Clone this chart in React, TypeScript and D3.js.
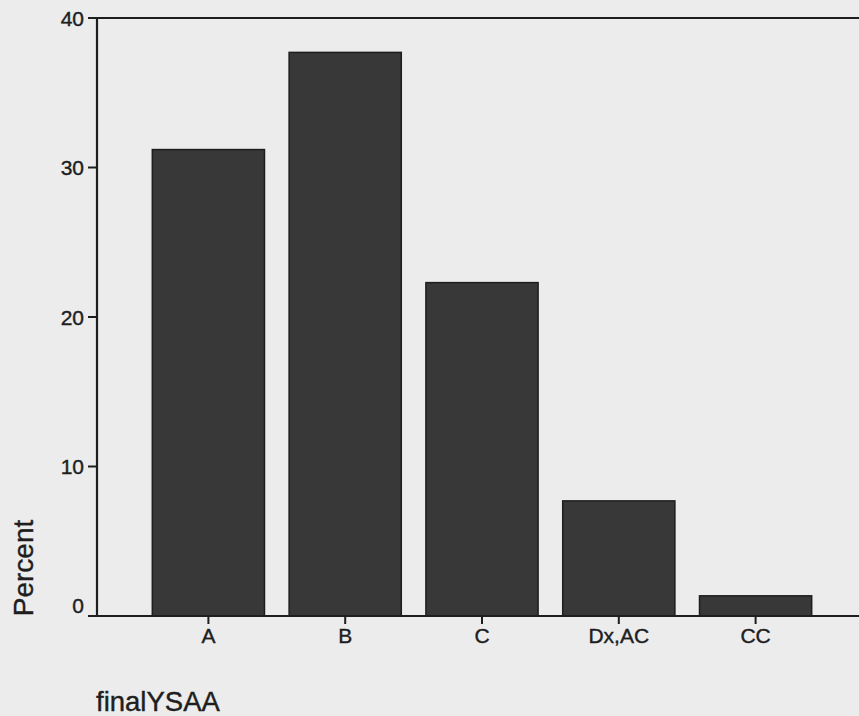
import React from "react";
import * as d3 from "d3";

const categories = ["A", "B", "C", "Dx,AC", "CC"];
const percents = [31.2, 37.7, 22.3, 7.7, 1.35];
const yTicks = [0, 10, 20, 30, 40];
const yLabel = "Percent";
const xLabel = "finalYSAA";

const W = 859;
const H = 716;

export default function App() {
  const y = d3.scaleLinear().domain([0, 40]).range([616, 18]);
  const x = d3
    .scaleBand<string>()
    .domain(categories)
    .range([140, 824])
    .paddingInner(0.18)
    .paddingOuter(0.09);
  const axisX = 97;
  const font = "'Liberation Sans', Arial, sans-serif";
  const ink = "#1e1e1e";
  const textStyle = { stroke: ink, strokeWidth: 0.4 } as React.CSSProperties;

  return (
    <div style={{ position: "fixed", left: 0, top: 0, width: W, height: H }}>
      <svg width={W} height={H} style={{ display: "block" }}>
        <rect x={0} y={0} width={W} height={H} fill="#ececec" />
        {/* bars */}
        {categories.map((c, i) => (
          <rect
            key={c}
            x={x(c)!}
            y={y(percents[i])}
            width={x.bandwidth()}
            height={y(0) - y(percents[i])}
            fill="#383838"
            stroke={ink}
            strokeWidth={1.5}
          />
        ))}
        {/* frame lines */}
        <line x1={axisX} x2={W + 5} y1={y(40)} y2={y(40)} stroke={ink} strokeWidth={2.2} />
        <line x1={88} x2={W + 5} y1={y(0)} y2={y(0)} stroke={ink} strokeWidth={2.2} />
        <line x1={axisX} x2={axisX} y1={y(40) - 1} y2={y(0) + 1} stroke={ink} strokeWidth={2.2} />
        {/* y ticks */}
        {yTicks.map((t) => (
          <g key={t}>
            <line x1={88} x2={axisX} y1={y(t)} y2={y(t)} stroke={ink} strokeWidth={2} />
            <text
              x={84}
              y={t === 0 ? y(t) - 11 : y(t)}
              dy="0.36em"
              textAnchor="end"
              fontFamily={font}
              fontSize={21}
              fill={ink}
              style={textStyle}
            >
              {t}
            </text>
          </g>
        ))}
        {/* x ticks */}
        {categories.map((c) => {
          const cx = x(c)! + x.bandwidth() / 2;
          return (
            <g key={c}>
              <line x1={cx} x2={cx} y1={y(0)} y2={y(0) + 8} stroke={ink} strokeWidth={2} />
              <text
                x={cx}
                y={643}
                textAnchor="middle"
                fontFamily={font}
                fontSize={21}
                fill={ink}
                style={textStyle}
              >
                {c}
              </text>
            </g>
          );
        })}
        {/* axis titles */}
        <text
          transform={`translate(33,${568}) rotate(-90)`}
          textAnchor="middle"
          fontFamily={font}
          fontSize={28}
          fill={ink}
          style={textStyle}
        >
          {yLabel}
        </text>
        <text x={96} y={711} fontFamily={font} fontSize={27.5} fill={ink} style={textStyle}>
          {xLabel}
        </text>
      </svg>
    </div>
  );
}
